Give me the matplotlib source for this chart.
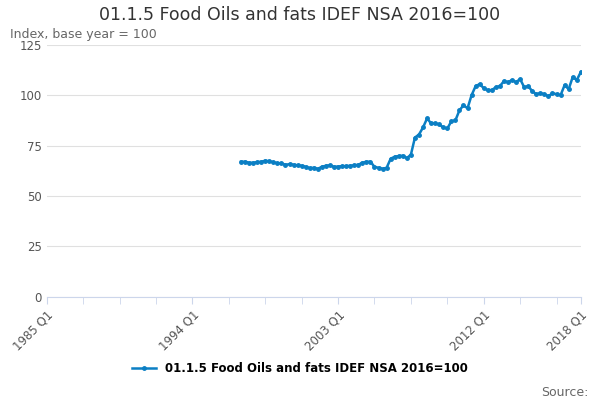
import matplotlib
matplotlib.use("Agg")
import matplotlib.pyplot as plt

# Quarterly index values, 1997 Q1 .. 2018 Q1
start_year = 1997
values = [67, 67, 66.5, 66.5, 66.8, 67, 67.5, 67.2, 66.8, 66.2,
          66.2, 65.5, 65.8, 65.5, 65.2, 65, 64.5, 63.8, 64, 63.5,
          64.5, 65, 65.2, 64.5, 64.6, 64.8, 64.8, 65, 65.2, 65.5,
          66.5, 67, 67, 64.5, 64, 63.5, 64, 68.5, 69.5, 69.8,
          70, 68.8, 70.5, 79, 80.5, 84, 88.5, 86, 86, 85.5,
          84, 83.5, 87, 87.5, 92.5, 95, 93.5, 100, 104.5, 105.5,
          103.5, 102.5, 102.5, 104, 104.5, 107, 106.5, 107.5, 106.5, 108,
          104, 104.5, 102, 100.5, 101, 100.5, 99.5, 101, 100.5, 100,
          105, 103, 109, 107.5, 111.5]
tick_labels = ["1985 Q1", "1994 Q1", "2003 Q1", "2012 Q1", "2018 Q1"]
series_name = "01.1.5 Food Oils and fats IDEF NSA 2016=100"

offset = (start_year - 1985) * 4
x = [offset + i for i in range(len(values))]

fig, ax = plt.subplots(figsize=(6, 4), dpi=100)
fig.subplots_adjust(left=0.078, right=0.968, top=0.888, bottom=0.258)
ax.plot(x, values, color="#0b7fc4", lw=1.8, marker="o", ms=2.5, label=series_name)

ax.set_xlim(0, 132)
ax.set_ylim(0, 125)
ax.set_yticks([0, 25, 50, 75, 100, 125])
ax.grid(axis="y", color="#e0e0e0", lw=0.8)
ax.set_axisbelow(True)
ax.set_xticks(range(0, 133, 9), minor=True)
ax.set_xticks([0, 36, 72, 108, 132])
ax.set_xticklabels(tick_labels, rotation=45, ha="right", rotation_mode="anchor", color="#555555", fontsize=8.5)
ax.tick_params(axis="x", which="both", length=5, color="#ccd6eb")
ax.tick_params(axis="y", length=0, labelcolor="#555555", labelsize=8.5)
for s in ["top", "right", "left"]:
    ax.spines[s].set_visible(False)
ax.spines["bottom"].set_color("#ccd6eb")

fig.suptitle(series_name, fontsize=12.5, y=0.985, color="#333333")
fig.text(0.017, 0.905, "Index, base year = 100", fontsize=9, color="#666666")
fig.legend(loc="lower center", bbox_to_anchor=(0.5, 0.035), frameon=False,
           prop={"weight": "bold", "size": 8.5})
fig.text(0.98, 0.01, "Source:", ha="right", fontsize=9, color="#666666")

plt.savefig("out.png", dpi=100)
